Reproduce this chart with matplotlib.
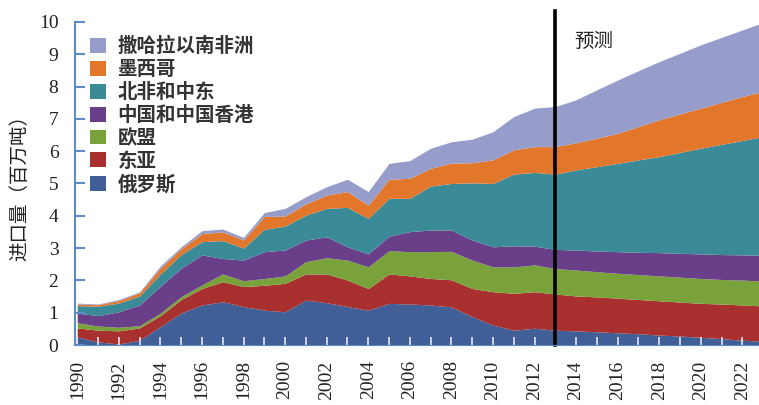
import numpy as np
import matplotlib
matplotlib.use("Agg")
import matplotlib.pyplot as plt
from matplotlib.patches import Patch

plt.rcParams['font.family'] = ['Noto Sans CJK SC', 'DejaVu Sans']

years = list(range(1990, 2024))

# cumulative tops (millions of tonnes), bottom -> top
top_russia = [0.25, 0.10, 0.03, 0.15, 0.57, 0.99, 1.24, 1.34, 1.19, 1.08,
              1.03, 1.39, 1.31, 1.19, 1.08, 1.29, 1.27, 1.24, 1.18, 0.88,
              0.62, 0.46, 0.52, 0.46, 0.44, 0.41, 0.38, 0.35, 0.31, 0.28,
              0.24, 0.20, 0.15, 0.12]
top_eastasia = [0.53, 0.46, 0.44, 0.53, 0.91, 1.41, 1.75, 1.96, 1.81, 1.85,
                1.91, 2.20, 2.20, 2.01, 1.75, 2.20, 2.14, 2.06, 2.02, 1.75,
                1.65, 1.60, 1.65, 1.58, 1.52, 1.49, 1.45, 1.41, 1.37, 1.33,
                1.29, 1.27, 1.24, 1.21]
top_eu = [0.69, 0.59, 0.55, 0.60, 0.99, 1.50, 1.86, 2.20, 1.99, 2.06,
          2.14, 2.58, 2.70, 2.63, 2.42, 2.92, 2.89, 2.89, 2.90, 2.63,
          2.42, 2.42, 2.48, 2.37, 2.32, 2.27, 2.22, 2.18, 2.14, 2.10,
          2.06, 2.03, 2.01, 1.98]
top_china = [0.99, 0.91, 1.03, 1.24, 1.82, 2.38, 2.79, 2.68, 2.63, 2.89,
             2.94, 3.25, 3.35, 3.04, 2.82, 3.37, 3.51, 3.56, 3.56, 3.25,
             3.04, 3.07, 3.06, 2.96, 2.94, 2.91, 2.89, 2.87, 2.86, 2.84,
             2.82, 2.80, 2.79, 2.78]
top_mena = [1.22, 1.20, 1.30, 1.52, 2.20, 2.80, 3.20, 3.23, 3.00, 3.58,
            3.68, 4.02, 4.23, 4.26, 3.92, 4.54, 4.54, 4.92, 5.00, 5.02,
            5.00, 5.29, 5.34, 5.29, 5.42, 5.52, 5.62, 5.73, 5.83, 5.96,
            6.09, 6.21, 6.33, 6.45]
top_mexico = [1.27, 1.25, 1.38, 1.62, 2.38, 2.98, 3.45, 3.50, 3.25, 3.98,
              3.99, 4.37, 4.64, 4.75, 4.33, 5.13, 5.16, 5.47, 5.63, 5.64,
              5.73, 6.04, 6.14, 6.14, 6.26, 6.40, 6.55, 6.76, 6.97, 7.15,
              7.33, 7.51, 7.69, 7.85]
top_ssa = [1.30, 1.27, 1.41, 1.65, 2.45, 3.04, 3.54, 3.59, 3.33, 4.10,
           4.23, 4.59, 4.90, 5.13, 4.75, 5.62, 5.71, 6.09, 6.29, 6.37,
           6.60, 7.07, 7.33, 7.38, 7.59, 7.90, 8.20, 8.49, 8.77, 9.03,
           9.29, 9.52, 9.75, 9.98]

labels = ['俄罗斯', '东亚', '欧盟', '中国和中国香港', '北非和中东', '墨西哥', '撒哈拉以南非洲']
colors = ['#405f97', '#a8302f', '#7aa23a', '#6a3f8a', '#3a8a98', '#e2772c', '#979dcb']
tops = [top_russia, top_eastasia, top_eu, top_china, top_mena, top_mexico, top_ssa]

fig = plt.figure(figsize=(7.59, 4.05), dpi=100)
ax = fig.add_axes([0.099, 0.148, 0.901, 0.798])

# stacked layers: each band between consecutive cumulative tops
lower = np.zeros(len(years))
for t, c in zip(tops, colors):
    t = np.array(t)
    ax.fill_between(years, lower, t, color=c, linewidth=0)
    lower = t

ax.set_xlim(1989.9, 2022.8)
ax.set_ylim(0, 10)

spine_col = '#5b8cc8'
for s in ['top', 'right']:
    ax.spines[s].set_visible(False)
ax.spines['left'].set_color(spine_col)
ax.spines['bottom'].set_color(spine_col)
ax.spines['left'].set_linewidth(1.5)

ax.set_yticks(range(0, 11))
ax.set_xticks(range(1990, 2023))
ax.set_xticklabels([str(y) if y % 2 == 0 else '' for y in range(1990, 2023)],
                   rotation=90)
ax.tick_params(axis='y', direction='in', length=7, width=1.5, color=spine_col,
               labelsize=14, pad=12, labelcolor='#222222')
ax.tick_params(axis='x', direction='in', length=6, width=1.2, color='#e4e4ee',
               labelsize=14, pad=11, labelcolor='#222222')
for lab in ax.get_xticklabels() + ax.get_yticklabels():
    lab.set_fontfamily('Liberation Serif')

ax.set_ylabel('进口量（百万吨）', fontsize=14, color='#222222')
ax.yaxis.set_label_coords(-0.066, 0.5)

# forecast divider
ax.axvline(2013, ymin=0, ymax=1.035, color='black', linewidth=2.6, clip_on=False)
ax.text(2013.9, 9.38, '预测', fontsize=14, color='#222222', va='center', ha='left')

handles = [Patch(facecolor=c, edgecolor='none') for c in colors[::-1]]
leg = ax.legend(handles, labels[::-1], loc='upper left', bbox_to_anchor=(0.005, 0.99),
                frameon=False, fontsize=14, handlelength=0.8, handleheight=0.8,
                handletextpad=0.6, labelspacing=0.2, borderaxespad=0.2)
for txt in leg.get_texts():
    txt.set_color('#333333')
    txt.set_fontweight('bold')

fig.savefig('out.png', dpi=100)
